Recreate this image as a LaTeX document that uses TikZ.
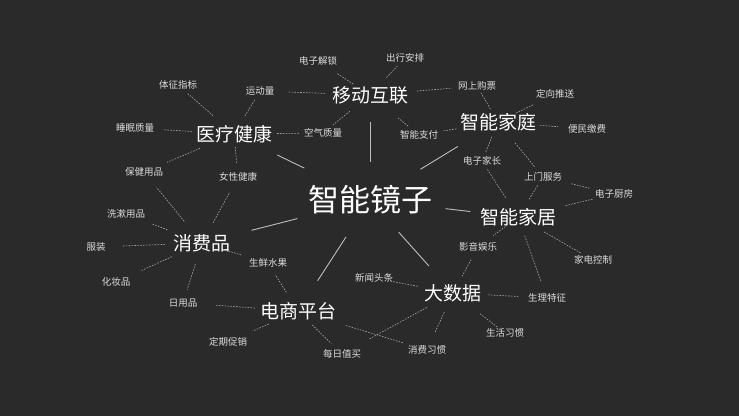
\documentclass[tikz,border=0pt]{standalone}
\usepackage{fontspec}
\setmainfont{Noto Sans CJK SC}
\definecolor{bg}{HTML}{2A2A2A}
\definecolor{solidc}{HTML}{BDBDBD}
\definecolor{dashc}{HTML}{A8A8A8}
\definecolor{smallc}{HTML}{DCDCDC}
\tikzset{
  hub/.style={font=\fontsize{31}{31}\selectfont, text=white, inner sep=0pt},
  topic/.style={font=\fontsize{19}{19}\selectfont, text=white, inner sep=0pt},
  leaf/.style={font=\fontsize{9.5}{9.5}\selectfont, text=smallc, inner sep=0pt},
  sl/.style={draw=solidc, line width=0.9pt},
  dl/.style={draw=dashc, line width=0.6pt, dash pattern=on 1.6pt off 1.3pt}
}
\newcommand\solidlink[4]{\draw[sl, shorten <=#3pt, shorten >=#4pt] (#1.center) -- (#2.center);}
\newcommand\dashlink[4]{\draw[dl, shorten <=#3pt, shorten >=#4pt] (#1.center) -- (#2.center);}
\begin{document}
\begin{tikzpicture}[x=1pt,y=-1pt]
\fill[bg] (0,0) rectangle (739,416);
\useasboundingbox (0,0) rectangle (739,416);
% hub and topics
\node[hub] (M) at (370,200) {智能镜子};
\node[topic] (A) at (370,95) {移动互联};
\node[topic] (B) at (498,122) {智能家庭};
\node[topic] (C) at (234,134) {医疗健康};
\node[topic] (D) at (518,217) {智能家居};
\node[topic] (E) at (202,243) {消费品};
\node[topic] (F) at (298,311) {电商平台};
\node[topic] (G) at (453,293) {大数据};
% leaves
\node[leaf] (l1) at (318,61) {电子解锁};
\node[leaf] (l2) at (405,58) {出行安排};
\node[leaf] (l3) at (260,91) {运动量};
\node[leaf] (l4) at (178,85) {体征指标};
\node[leaf] (l5) at (135,128) {睡眠质量};
\node[leaf] (l6) at (323,133) {空气质量};
\node[leaf] (l7) at (419,135) {智能支付};
\node[leaf] (l8) at (477,86) {网上购票};
\node[leaf] (l9) at (555,94) {定向推送};
\node[leaf] (l10) at (587,129) {便民缴费};
\node[leaf] (l11) at (482,161) {电子家长};
\node[leaf] (l12) at (543,177) {上门服务};
\node[leaf] (l13) at (614,194) {电子厨房};
\node[leaf] (l14) at (144,172) {保健用品};
\node[leaf] (l15) at (238,177) {女性健康};
\node[leaf] (l16) at (126,214) {洗漱用品};
\node[leaf] (l17) at (96,247) {服装};
\node[leaf] (l18) at (116,282) {化妆品};
\node[leaf] (l19) at (183,303) {日用品};
\node[leaf] (l20) at (268,263) {生鲜水果};
\node[leaf] (l21) at (228,342) {定期促销};
\node[leaf] (l22) at (342,354) {每日值买};
\node[leaf] (l23) at (427,350) {消费习惯};
\node[leaf] (l24) at (374,278) {新闻头条};
\node[leaf] (l25) at (478,247) {影音娱乐};
\node[leaf] (l26) at (593,260) {家电控制};
\node[leaf] (l27) at (547,298) {生理特征};
\node[leaf] (l28) at (505,333) {生活习惯};
% solid links
\solidlink{M}{A}{38}{27}
\solidlink{M}{B}{59}{47}
\solidlink{M}{C}{73}{48}
\solidlink{M}{D}{76}{48}
\solidlink{M}{E}{75}{51}
\solidlink{M}{F}{44}{36}
\solidlink{M}{G}{43}{36}
% 医疗健康
\dashlink{C}{l4}{28}{13}
\dashlink{C}{l3}{21}{9}
\dashlink{C}{l5}{42}{28}
\dashlink{C}{l6}{43}{23}
\dashlink{C}{l14}{37}{25}
\dashlink{C}{l15}{13}{14}
% 移动互联
\dashlink{A}{l3}{45}{28}
\dashlink{A}{l1}{20}{23}
\dashlink{A}{l6}{26}{13}
\dashlink{A}{l2}{24}{11}
\dashlink{A}{l8}{47}{25}
\dashlink{A}{l7}{36}{14}
% 智能家庭
\dashlink{B}{l8}{15}{8}
\dashlink{B}{l9}{20}{23}
\dashlink{B}{l10}{42}{29}
\dashlink{B}{l7}{42}{24}
\dashlink{B}{l11}{16}{9}
\dashlink{B}{l12}{27}{13}
% 智能家居
\dashlink{D}{l11}{23}{9}
\dashlink{D}{l12}{21}{9}
\dashlink{D}{l13}{49}{21}
\dashlink{D}{l25}{13}{19}
\dashlink{D}{l26}{30}{13}
\dashlink{D}{l27}{20}{18}
\dashlink{l12}{l13}{29}{24}
% 消费品
\dashlink{E}{l14}{28}{20}
\dashlink{E}{l15}{23}{17}
\dashlink{E}{l16}{37}{27}
\dashlink{E}{l17}{37}{26}
\dashlink{E}{l18}{33}{27}
\dashlink{E}{l19}{22}{14}
\dashlink{E}{l20}{22}{28}
% 电商平台
\dashlink{F}{l19}{43}{33}
\dashlink{F}{l20}{22}{14}
\dashlink{F}{l21}{32}{27}
\dashlink{F}{l22}{20}{15}
\dashlink{F}{l23}{50}{24}
% 大数据
\dashlink{G}{l24}{36}{16}
\dashlink{G}{l22}{30}{31}
\dashlink{G}{l23}{21}{20}
\dashlink{G}{l28}{34}{9}
\dashlink{G}{l25}{19}{14}
\dashlink{G}{l27}{35}{29}
\end{tikzpicture}
\end{document}
